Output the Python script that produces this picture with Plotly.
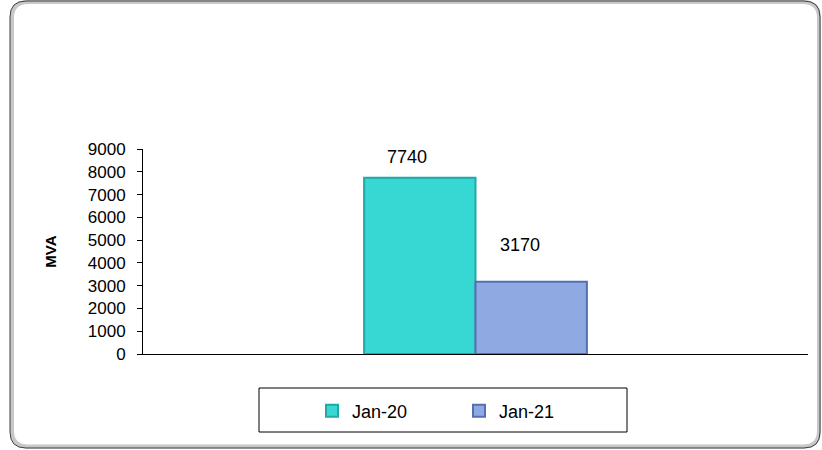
import plotly.graph_objects as go

# ---- data ----
series_names = ["Jan-20", "Jan-21"]
series_values = [7740, 3170]
y_ticks = [0, 1000, 2000, 3000, 4000, 5000, 6000, 7000, 8000, 9000]
y_title = "MVA"

# ---- style ----
fill_colors = ["#37D7D4", "#8FAAE2"]
edge_colors = ["#22A9A6", "#5570B0"]
label_yshift = [21, 37]
label_xshift = [-13, -11]
FONT = "Liberation Sans, Arial, sans-serif"
W, H = 822, 450
L, R, T, B = 143, 14, 149, 96
pw, ph = W - L - R, H - T - B

def px2paper(x, y):
    return (x - L) / pw, (H - B - y) / ph

def rounded_rect(x0, y0, x1, y1, r):
    def P(x, y):
        a, b = px2paper(x, y)
        return f"{a:.5f},{b:.5f}"
    return (f"M {P(x0 + r, y0)} L {P(x1 - r, y0)} Q {P(x1, y0)} {P(x1, y0 + r)} "
            f"L {P(x1, y1 - r)} Q {P(x1, y1)} {P(x1 - r, y1)} "
            f"L {P(x0 + r, y1)} Q {P(x0, y1)} {P(x0, y1 - r)} "
            f"L {P(x0, y0 + r)} Q {P(x0, y0)} {P(x0 + r, y0)} Z")

fig = go.Figure()
for i, name in enumerate(series_names):
    fig.add_trace(go.Bar(
        x=[0], y=[series_values[i]], name=name,
        marker=dict(color=fill_colors[i], line=dict(color=edge_colors[i], width=2)),
        offsetgroup=str(i),
    ))

half = (1 - 0.665) / 2 * pw / 2  # half bar width in px
for i, v in enumerate(series_values):
    fig.add_annotation(
        x=0, y=v, xref="x", yref="y", text=str(v), showarrow=False,
        xshift=(-half if i == 0 else half) + label_xshift[i], yshift=label_yshift[i],
        font=dict(family=FONT, size=18, color="black"),
    )

shapes = []
# outer chart border with shadow
shapes.append(dict(type="path", xref="paper", yref="paper",
                   path=rounded_rect(12, 2, 819, 446.5, 16),
                   line=dict(color="#C8C8C8", width=4), layer="below"))
shapes.append(dict(type="path", xref="paper", yref="paper",
                   path=rounded_rect(10, 1, 820, 448, 16),
                   line=dict(color="#404040", width=1), layer="below"))
# legend box
lx0, ly0 = px2paper(259, 388)
lx1, ly1 = px2paper(627, 432)
shapes.append(dict(type="rect", xref="paper", yref="paper",
                   x0=lx0, y0=ly1, x1=lx1, y1=ly0,
                   line=dict(color="black", width=1), fillcolor="white", layer="below"))

legx, legy = px2paper(459, 411)

fig.update_layout(
    width=W, height=H,
    margin=dict(l=L, r=R, t=T, b=B, pad=0),
    paper_bgcolor="white", plot_bgcolor="white",
    barmode="group", bargap=0.665, bargroupgap=0,
    font=dict(family=FONT, size=17, color="black"),
    showlegend=True,
    legend=dict(orientation="h", x=legx, y=legy, xanchor="center", yanchor="middle",
                font=dict(family=FONT, size=18), entrywidth=102,
                bgcolor="rgba(0,0,0,0)", itemclick=False),
    shapes=shapes,
    xaxis=dict(range=[-0.5, 0.5], showticklabels=False, showgrid=False, zeroline=False,
               showline=True, linecolor="black", linewidth=1, ticks="", fixedrange=True),
    yaxis=dict(range=[0, 9000], tickvals=y_ticks, ticktext=[str(t) for t in y_ticks],
               showgrid=False, zeroline=False, showline=True, linecolor="black",
               linewidth=1, ticks="outside", ticklen=5, tickcolor="black",
               ticklabelstandoff=8, tickfont=dict(family=FONT, size=17),
               title=dict(text="<b>" + y_title + "</b>", standoff=27,
                          font=dict(family=FONT, size=15))),
)

fig.write_html("out.html", config={"displayModeBar": False},
               post_script="document.body.style.margin='0';")
